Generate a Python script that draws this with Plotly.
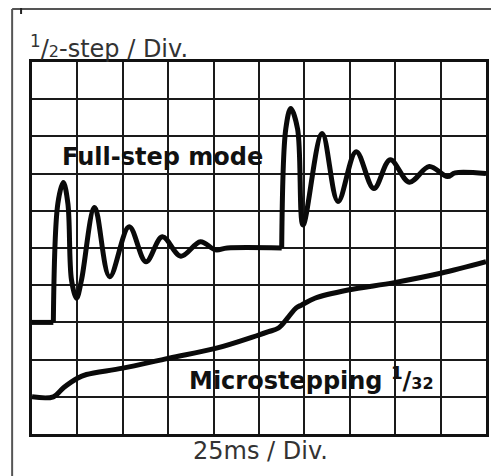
import plotly.graph_objects as go

# ---- data (grid is 10 x 10 divisions) ----
full_flat_x = [0, 0.47]
full_flat_y = [3, 3]

full_a_x = [0.47, 0.57, 0.69, 0.79, 0.87, 0.98, 1.09, 1.38, 1.71, 2.14, 2.51, 2.87, 3.28, 3.71, 4.04, 4.3, 5.5]
full_a_y = [3.0, 6.2, 6.76, 6.2, 4.14, 3.65, 4.14, 6.09, 4.23, 5.57, 4.63, 5.30, 4.78, 5.17, 4.95, 5.0, 5.0]

full_b_x = [5.5, 5.59, 5.70, 5.85, 5.97, 6.39, 6.74, 7.14, 7.53, 7.89, 8.31, 8.75, 9.15, 9.32, 10.0]
full_b_y = [5.0, 8.2, 8.75, 8.2, 5.62, 8.08, 6.25, 7.59, 6.60, 7.37, 6.77, 7.19, 6.92, 7.02, 7.0]

micro_x = [0, 0.47, 0.7, 1.0, 1.2, 2.0, 3.02, 4.04, 4.99, 5.21, 5.43, 5.65, 5.82, 5.94, 6.23, 6.96, 7.98, 9.0, 10.0]
micro_y = [1, 1, 1.25, 1.5, 1.6, 1.77, 2.04, 2.30, 2.66, 2.75, 2.85, 3.15, 3.39, 3.47, 3.65, 3.87, 4.07, 4.32, 4.63]

y_label = '<sup>1</sup>/<span style="font-size:16px">2</span>-step / Div.'
x_label = "25ms / Div."
full_label = "<b>Full-step mode</b>"
micro_label = '<b>Microstepping <sup>1</sup>/<span style="font-size:16px">32</span></b>'

# the page body adds an 8px offset; work in screen pixels and shift
OFF = 8
W, H = 499 - OFF, 476 - OFF
L, T = 32 - OFF, 62 - OFF
PW, PH = 457, 372
R, B = W - L - PW, H - T - PH

def px(x):
    return (x - OFF - L) / PW

def py(y):
    return (T + PH - (y - OFF)) / PH

line = dict(color="#0a0a0a", width=5)
fig = go.Figure()
fig.add_trace(go.Scatter(x=full_flat_x, y=full_flat_y, mode="lines", line=line))
fig.add_trace(go.Scatter(x=full_a_x, y=full_a_y, mode="lines", line=dict(line, shape="spline", smoothing=1)))
fig.add_trace(go.Scatter(x=full_b_x, y=full_b_y, mode="lines", line=dict(line, shape="spline", smoothing=1)))
fig.add_trace(go.Scatter(x=micro_x, y=micro_y, mode="lines", line=dict(line, shape="spline", smoothing=1)))

axis = dict(range=[0, 10], dtick=1, tick0=0, showgrid=True, gridcolor="#1a1a1a", gridwidth=2,
            zeroline=False, showticklabels=False, ticks="", showline=True, linecolor="#111",
            linewidth=3, mirror=True, fixedrange=True)
fig.update_xaxes(**axis)
fig.update_yaxes(**axis)

font_r = dict(family="DejaVu Sans", size=24, color="#333333")
font_b = dict(family="DejaVu Sans", size=24, color="#111111")
fig.add_annotation(text=y_label, xref="paper", yref="paper", x=px(28), y=py(47),
                   xanchor="left", yanchor="middle", showarrow=False, font=font_r)
fig.add_annotation(text=x_label, xref="paper", yref="paper", x=px(262), y=py(451),
                   xanchor="center", yanchor="middle", showarrow=False, font=font_r)
fig.add_annotation(text=full_label, xref="paper", yref="paper", x=px(60), y=py(157),
                   xanchor="left", yanchor="middle", showarrow=False, font=font_b)
fig.add_annotation(text=micro_label, xref="paper", yref="paper", x=px(188), y=py(379),
                   xanchor="left", yanchor="middle", showarrow=False, font=font_b)

# outer frame (top and left edges) and the small mark above it
frame = dict(color="#555555", width=2)
fig.add_shape(type="line", xref="paper", yref="paper", x0=px(12), x1=px(499), y0=py(9), y1=py(9), line=frame)
fig.add_shape(type="line", xref="paper", yref="paper", x0=px(12), x1=px(12), y0=py(9), y1=py(476), line=frame)
fig.add_shape(type="line", xref="paper", yref="paper", x0=px(21), x1=px(21), y0=py(8), y1=py(14), line=dict(color="#222", width=2))

fig.update_layout(width=W, height=H, margin=dict(l=L, r=R, t=T, b=B),
                  paper_bgcolor="white", plot_bgcolor="white", showlegend=False)
fig.write_html("out.html")
